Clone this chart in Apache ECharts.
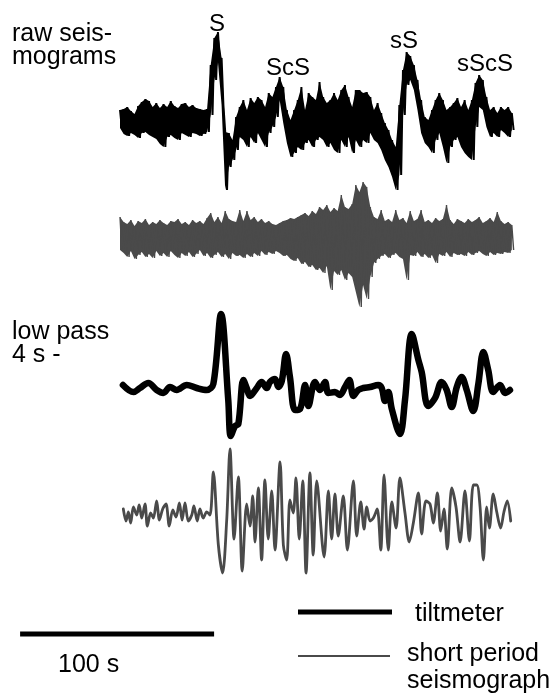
<!DOCTYPE html>
<html><head><meta charset="utf-8">
<script src="https://cdn.jsdelivr.net/npm/echarts@6/dist/echarts.min.js"></script>
<style>html,body{margin:0;padding:0;background:#fff}#c{width:558px;height:696px}</style>
</head><body><div id="c"></div>
<script>
// time between envelope samples of the raw records (s)
const rawStep = 1.87;
// raw tiltmeter record: upper / lower envelope (amplitude units)
const t1Upper = [10,11,13,9,6,14,18,21,19,13, 17,12,16,13,19,14,12,16,17,13, 15,12,11,10,11,55,82,88,62,-12, -13,-20,3,13,20,10,22,17,23,20, 13,27,23,33,43,33,10,0,10,20, 33,10,27,23,20,38,23,17,20,27, 20,30,35,23,13,30,30,27,28,23, 10,17,7,-3,-10,-20,-27,15,50,68, 64,55,40,20,3,0,10,20,27,20, 10,13,17,22,13,20,10,20,37,45, 40,23,10,13,7,13,10,13,7];
const t1Lower = [-8,-14,-16,-13,-15,-18,-13,-12,-15,-17, -19,-24,-27,-17,-15,-18,-20,-13,-15,-17, -13,-14,-16,-14,-12,5,40,58,15,-70, -47,-40,-30,-17,-20,-27,-17,-23,-13,-20, -27,-13,-7,3,20,-3,-23,-37,-33,-27, -30,-23,-20,-27,-20,-17,-20,-27,-23,-30, -33,-20,-27,-17,-33,-20,-27,-20,-23,-13, -20,-23,-30,-40,-47,-57,-70,-55,5,35, 40,30,10,-13,-23,-27,-33,-20,-13,-27, -43,-27,-20,-17,-27,-33,-37,-40,-7,13, 10,-7,-17,-13,-17,-10,-13,-17,-10];
// raw short-period record: upper / lower envelope
const t2Upper = [20,15,13,17,11,16,14,18,12,15, 13,17,14,12,16,15,18,13,15,12, 17,14,16,13,19,24,15,20,14,26, 18,16,15,27,16,26,17,20,15,18, 14,16,13,12,14,16,17,19,18,20, 22,24,21,26,23,30,27,32,25,29, 26,42,30,28,33,52,45,55,50,30, 20,18,27,16,18,15,27,17,19,14, 26,16,18,27,15,17,14,19,16,18, 32,17,13,18,16,14,18,15,17,20, 14,16,19,15,25,16,13,15,12];
const t2Lower = [-13,-16,-20,-14,-22,-18,-15,-20,-17,-21, -14,-19,-16,-20,-14,-18,-21,-16,-19,-15, -20,-17,-13,-19,-16,-21,-18,-15,-20,-17, -22,-16,-19,-18,-21,-17,-20,-16,-19,-14, -18,-15,-17,-14,-16,-19,-18,-22,-24,-21, -27,-25,-30,-28,-33,-31,-36,-29,-53,-34, -38,-33,-43,-36,-40,-55,-70,-48,-62,-40, -26,-22,-19,-17,-21,-18,-16,-20,-22,-43, -18,-19,-15,-20,-17,-21,-18,-26,-17,-19, -15,-20,-16,-18,-17,-19,-15,-18,-16,-14, -17,-19,-15,-18,-16,-17,-15,-16,-13];
// low pass 4 s tiltmeter: [time s, amplitude]
const lpTilt = [[1.5,5],[6.9,-2],[10.3,2],[14.6,7],[18.9,0],[22.3,-3],[25.8,3],[29.2,0],[34.4,5],[39.5,2],[44.7,0],[48.1,6],[52.1,76],[55.8,-10],[57.1,-46],[59.3,-36],[61.0,-34],[63.6,10],[65.3,2],[67.0,-6],[70.5,2],[73.0,8],[75.6,2],[77.3,8],[79.9,11],[81.6,3],[83.4,9],[85.6,36],[87.6,13],[90.2,-20],[92.8,-19],[95.4,5],[97.1,-16],[100.5,8],[103.1,0],[105.7,8],[107.4,-3],[110.8,-2],[113.4,-5],[116.0,3],[118.2,10],[120.3,-6],[122.8,0],[125.4,2],[128.9,3],[133.1,5],[134.9,2],[136.6,-11],[138.3,-2],[140.1,-19],[144.3,-44],[146.9,-10],[150.4,56],[153.8,30],[155.5,18],[158.9,-16],[162.4,-8],[165.8,8],[168.4,0],[171.0,-17],[173.6,3],[176.1,13],[178.7,0],[182.1,-21],[184.7,6],[187.3,38],[189.8,20],[192.4,-2],[195.9,5],[198.5,-3],[201.0,0]];
// low pass 4 s short-period seismograph: [time s, amplitude]
const lpShort = [[1.7,6],[3.1,-6],[4.3,3],[5.5,-8],[6.9,8],[8.6,0],[9.9,10],[11.2,-3],[12.9,11],[14.1,-11],[15.8,2],[17.2,-3],[18.9,14],[20.3,-5],[22.0,6],[23.7,11],[25.4,-11],[27.2,5],[28.9,-2],[30.6,12],[32.0,-5],[33.5,12],[35.2,-6],[37.0,0],[38.1,9],[39.8,-6],[41.2,6],[42.9,-3],[44.7,3],[46.4,0],[48.1,43],[50.7,-30],[52.9,-58],[55.0,-5],[56.7,66],[58.8,-24],[61.0,38],[63.0,-56],[65.3,11],[67.0,-11],[68.4,19],[69.6,-27],[71.3,27],[73.0,-45],[74.7,35],[76.4,-24],[78.2,24],[79.9,-35],[82.5,53],[84.2,-30],[85.9,-45],[87.6,15],[89.3,2],[90.7,37],[92.4,-24],[94.2,34],[95.9,-58],[97.9,42],[99.6,-40],[101.4,34],[105.2,-42],[107.4,24],[109.1,-24],[110.8,21],[112.5,-21],[115.1,19],[117.2,-35],[120.3,34],[122.0,-21],[124.1,13],[125.8,-14],[127.2,8],[128.9,-6],[130.6,-3],[132.6,6],[134.4,-35],[136.1,40],[138.3,-35],[140.1,13],[142.3,-13],[144.3,37],[146.9,2],[149.1,-27],[151.2,-8],[153.8,22],[155.5,-19],[157.7,14],[159.8,11],[161.5,-8],[163.6,22],[165.3,-16],[167.0,6],[168.7,-34],[171.0,27],[173.2,8],[175.3,-27],[177.8,24],[180.1,-26],[182.1,30],[183.9,30],[185.6,8],[187.3,-45],[189.0,8],[190.4,-13],[192.4,21],[194.2,3],[196.2,-13],[197.9,3],[199.6,14],[201.4,-6]];
// vertical offsets of the four traces
const traceOffsets = [576, 459, 306, 181];
const scaleBarSeconds = 100;
const peakNames = ['S', 'ScS', 'sS', 'sScS'];

const FONT = '"Liberation Sans", Arial, sans-serif';
const BLACK = '#000000', GRAY = '#4a4a4a';

function zigzag(up, lo, off) {
  const d = [];
  for (let k = 0; k < up.length; k++) {
    d.push([k * rawStep, off + up[k]]);
    d.push([k * rawStep + rawStep / 2, off + lo[k]]);
  }
  return d;
}
function shift(arr, off) { return arr.map(p => [p[0], p[1] + off]); }

// filled envelope band, drawn through the axes' scales
function band(name, up, lo, off, color) {
  const rows = up.map((v, k) => [k * rawStep, off + lo[k], off + v]);
  return {
    type: 'custom', name: name + ' band', silent: true, data: rows,
    encode: {x: 0, y: [1, 2]},
    renderItem: function (params, api) {
      if (params.dataIndex !== 0) return null;
      const pts = [];
      for (let k = 0; k < rows.length; k++) pts.push(api.coord([rows[k][0], rows[k][2]]));
      for (let k = rows.length - 1; k >= 0; k--) pts.push(api.coord([rows[k][0], rows[k][1]]));
      return {type: 'polygon', shape: {points: pts}, style: {fill: color, stroke: null}};
    }
  };
}

const chart = echarts.init(document.getElementById('c'), null, {renderer: 'canvas'});
const scaleStart = -51.5;
function txt(text, x, y, size, align) {
  return {type: 'text', x: x, y: y, silent: true,
    style: {text: text, font: size + 'px ' + FONT, fill: BLACK, align: align || 'left', verticalAlign: 'middle'}};
}
const option = {
  animation: false,
  backgroundColor: '#ffffff',
  grid: {left: 0, right: 0, top: 0, bottom: 0},
  xAxis: {type: 'value', min: -61.86, max: 225.77, show: false},
  yAxis: {type: 'value', min: 0, max: 696, show: false},
  series: [
    band('tiltmeter raw', t1Upper, t1Lower, traceOffsets[0], BLACK),
    band('short period raw', t2Upper, t2Lower, traceOffsets[1], GRAY),
    {type: 'line', name: 'tiltmeter raw', data: zigzag(t1Upper, t1Lower, traceOffsets[0]), symbol: 'none', silent: true,
      lineStyle: {color: BLACK, width: 2}},
    {type: 'line', name: 'short period raw', data: zigzag(t2Upper, t2Lower, traceOffsets[1]), symbol: 'none', silent: true,
      lineStyle: {color: GRAY, width: 1.4}},
    {type: 'line', name: 'tiltmeter low pass', data: shift(lpTilt, traceOffsets[2]), symbol: 'none', silent: true, smooth: 0.35,
      lineStyle: {color: BLACK, width: 6.5, cap: 'round', join: 'round'}},
    {type: 'line', name: 'short period low pass', data: shift(lpShort, traceOffsets[3]), symbol: 'none', silent: true, smooth: 0.3,
      lineStyle: {color: GRAY, width: 2.8, cap: 'round', join: 'round'}},
    {type: 'line', name: 'scale', data: [[scaleStart, 62], [scaleStart + scaleBarSeconds, 62]], symbol: 'none', silent: true,
      lineStyle: {color: BLACK, width: 5}}
  ],
  graphic: [
    txt('raw seis-', 12, 34, 25),
    txt('mograms', 12, 57, 25),
    txt('low pass', 12, 332, 25),
    txt('4 s -', 12, 355, 25),
    txt(peakNames[0], 217, 24, 24, 'center'),
    txt(peakNames[1], 288, 68, 24, 'center'),
    txt(peakNames[2], 404, 41, 24, 'center'),
    txt(peakNames[3], 485, 64, 24, 'center'),
    {type: 'line', silent: true, shape: {x1: 298, y1: 612, x2: 392, y2: 612}, style: {stroke: BLACK, lineWidth: 5}},
    {type: 'line', silent: true, shape: {x1: 298, y1: 656, x2: 390, y2: 656}, style: {stroke: GRAY, lineWidth: 2}},
    txt('tiltmeter', 415, 614, 25),
    txt('short period', 407, 654, 25),
    txt('seismograph', 407, 681, 25),
    txt(scaleBarSeconds + ' s', 58, 665, 25)
  ]
};
chart.setOption(option);
</script></body></html>
